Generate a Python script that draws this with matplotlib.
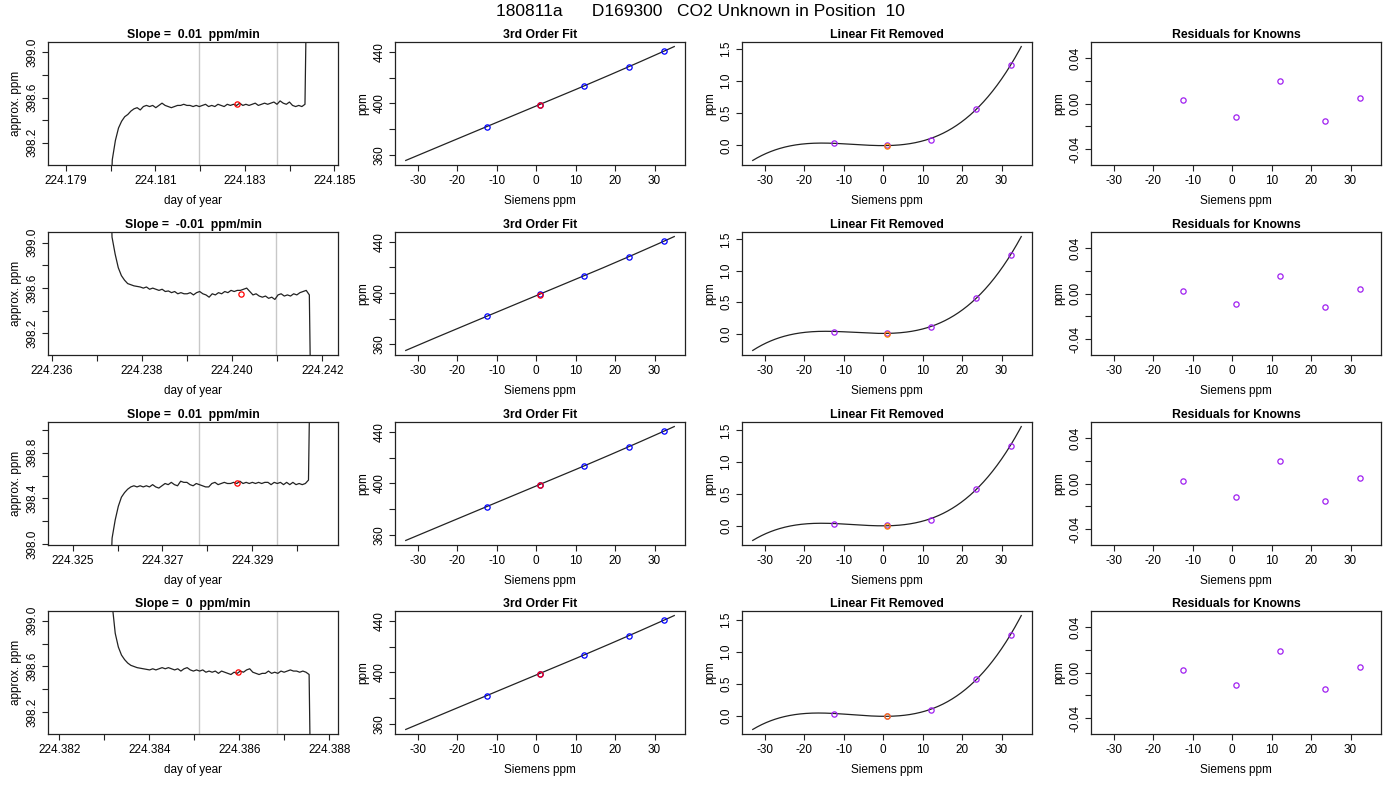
"""Unknown-in-position diagnostics: raw trace, cubic calibration, linear-removed fit and residuals."""

import numpy as np
import matplotlib

matplotlib.use("Agg")
import matplotlib.pyplot as plt
from matplotlib.ticker import FixedLocator, FixedFormatter

plt.rcParams["font.family"] = ["Liberation Sans", "DejaVu Sans"]

TITLE = "180811a      D169300   CO2 Unknown in Position  10"

# ---- column 1: analyser trace, one sample every 6 s ----
SAMPLE_SEC = 6.0
trace_start = [224.179967, 224.237270, 224.325808, 224.383104]
trace_row1 = [
    397.30, 398.05, 398.22, 398.33, 398.39, 398.43, 398.45, 398.48, 398.50, 398.51,
    398.49, 398.52, 398.53, 398.52, 398.53, 398.51, 398.53, 398.55, 398.53, 398.52,
    398.51, 398.52, 398.53, 398.53, 398.54, 398.53, 398.53, 398.52, 398.53, 398.52,
    398.53, 398.54, 398.52, 398.53, 398.52, 398.54, 398.53, 398.52, 398.54, 398.53,
    398.54, 398.53, 398.55, 398.53, 398.54, 398.53, 398.54, 398.55, 398.53, 398.54,
    398.55, 398.54, 398.55, 398.56, 398.54, 398.57, 398.55, 398.54, 398.56, 398.53,
    398.52, 398.53, 398.52, 398.54, 400.50,
]
trace_row2 = [
    400.20, 399.05, 398.90, 398.78, 398.71, 398.67, 398.64, 398.63, 398.62, 398.615,
    398.61, 398.60, 398.61, 398.59, 398.60, 398.59, 398.58, 398.59, 398.57, 398.575,
    398.56, 398.57, 398.55, 398.56, 398.55, 398.55, 398.56, 398.54, 398.56, 398.57,
    398.55, 398.54, 398.52, 398.55, 398.54, 398.56, 398.55, 398.57, 398.56, 398.58,
    398.57, 398.58, 398.58, 398.59, 398.60, 398.57, 398.54, 398.55, 398.53, 398.52,
    398.53, 398.51, 398.52, 398.50, 398.54, 398.55, 398.53, 398.54, 398.53, 398.55,
    398.54, 398.56, 398.57, 398.58, 398.54, 396.50,
]
trace_row3 = [
    397.30, 398.05, 398.21, 398.33, 398.41, 398.45, 398.48, 398.50, 398.51, 398.50,
    398.51, 398.50, 398.51, 398.50, 398.52, 398.50, 398.49, 398.51, 398.53, 398.52,
    398.54, 398.52, 398.51, 398.55, 398.54, 398.54, 398.52, 398.51, 398.53, 398.52,
    398.51, 398.50, 398.50, 398.53, 398.54, 398.52, 398.53, 398.54, 398.53, 398.53,
    398.54, 398.53, 398.55, 398.53, 398.54, 398.53, 398.54, 398.53, 398.54, 398.53,
    398.54, 398.54, 398.52, 398.54, 398.53, 398.54, 398.52, 398.54, 398.52, 398.54,
    398.52, 398.53, 398.52, 398.53, 398.56, 400.50,
]
trace_row4 = [
    400.30, 399.15, 398.89, 398.77, 398.70, 398.66, 398.63, 398.61, 398.60, 398.59,
    398.585, 398.58, 398.575, 398.57, 398.58, 398.57, 398.58, 398.59, 398.58, 398.59,
    398.58, 398.57, 398.58, 398.56, 398.58, 398.59, 398.57, 398.56, 398.57, 398.56,
    398.57, 398.55, 398.56, 398.55, 398.56, 398.54, 398.56, 398.55, 398.54, 398.53,
    398.55, 398.54, 398.56, 398.55, 398.57, 398.58, 398.55, 398.54, 398.53, 398.54,
    398.54, 398.56, 398.54, 398.55, 398.54, 398.56, 398.55, 398.56, 398.57, 398.56,
    398.56, 398.55, 398.56, 398.55, 398.53, 396.50,
]
traces = [trace_row1, trace_row2, trace_row3, trace_row4]

window_start = [224.181975, 224.239270, 224.327810, 224.385100]
window_end = [224.183720, 224.240980, 224.329550, 224.386830]
unknown_time = [224.18282, 224.24020, 224.32866, 224.38596]
unknown_mean = [398.54, 398.55, 398.538, 398.55]
slopes = ["0.01", "-0.01", "0.01", "0"]

time_xlim = [(224.17860, 224.18508), (224.23592, 224.24235), (224.32445, 224.33091), (224.38175, 224.38819)]
time_ylim = [(398.003, 399.091), (398.010, 399.095), (397.990, 399.070), (398.010, 399.085)]
time_xticks = [
    [224.179, 224.180, 224.181, 224.182, 224.183, 224.184, 224.185],
    [224.236, 224.237, 224.238, 224.239, 224.240, 224.241, 224.242],
    [224.325, 224.326, 224.327, 224.328, 224.329, 224.330],
    [224.382, 224.383, 224.384, 224.385, 224.386, 224.387, 224.388],
]
time_yticks = [
    [398.2, 398.4, 398.6, 398.8, 399.0],
    [398.2, 398.4, 398.6, 398.8, 399.0],
    [398.0, 398.2, 398.4, 398.6, 398.8, 399.0],
    [398.2, 398.4, 398.6, 398.8, 399.0],
]

# ---- columns 2-4: calibration against the known tanks ----
siemens_known = [-12.5, 1.0, 12.2, 23.5, 32.3]
siemens_unknown = 1.0
fit_range = (-33.0, 35.0)

ppm_known = [
    [381.8, 399.0, 413.6, 428.4, 440.4],
    [381.8, 399.0, 413.5, 428.3, 440.3],
    [381.8, 399.0, 413.6, 428.4, 440.4],
    [381.8, 399.0, 413.6, 428.4, 440.4],
]
ppm_unknown = [398.55, 398.55, 398.54, 398.55]

nonlinear_known = [
    [0.030, 0.010, 0.090, 0.570, 1.240],
    [0.032, 0.010, 0.100, 0.567, 1.250],
    [0.030, 0.010, 0.090, 0.580, 1.260],
    [0.040, 0.010, 0.090, 0.580, 1.270],
]
nonlinear_unknown = [-0.005, 0.0, -0.003, 0.0]

residuals = [
    [0.0027, -0.0118, 0.0200, -0.0153, 0.0050],
    [0.0020, -0.0088, 0.0152, -0.0117, 0.0038],
    [0.0020, -0.0120, 0.0199, -0.0157, 0.0047],
    [0.0020, -0.0113, 0.0187, -0.0148, 0.0044],
]

INK = "#222222"
FIG_W, FIG_H = 1400, 800
COL_LEFT = [48, 395, 742, 1091]
ROW_TOP = [42, 232, 422, 611]
AX_W, AX_H = 290, 123
MS = 3.8


def style_axes(ax):
    for sp in ax.spines.values():
        sp.set_linewidth(0.9)
        sp.set_color(INK)
    ax.tick_params(direction="out", length=4.5, width=0.8, color=INK,
                   labelsize=8.5, pad=2.5, labelcolor="black")
    ax.tick_params(axis="y", labelrotation=90)
    for lab in ax.get_yticklabels():
        lab.set_va("center")


def set_ticks(ax, axis, ticks, labels):
    target = ax.xaxis if axis == "x" else ax.yaxis
    target.set_major_locator(FixedLocator(ticks))
    target.set_major_formatter(FixedFormatter(labels))


def every_other(values, fmt, first=0):
    return [fmt.format(v) if (i - first) % 2 == 0 else "" for i, v in enumerate(values)]


def main() -> None:
    fig = plt.figure(figsize=(FIG_W / 100, FIG_H / 100), dpi=100)
    fig.text(0.5, 1 - 11 / FIG_H, TITLE, ha="center", va="center", fontsize=12.5)

    axes = []
    for r in range(4):
        row = []
        for c in range(4):
            rect = [COL_LEFT[c] / FIG_W, (FIG_H - ROW_TOP[r] - AX_H) / FIG_H, AX_W / FIG_W, AX_H / FIG_H]
            row.append(fig.add_axes(rect))
        axes.append(row)

    title_kw = dict(fontsize=8.8, fontweight="bold", pad=3)
    label_kw = dict(fontsize=8.5)

    for r in range(4):
        # raw trace
        ax = axes[r][0]
        y = np.array(traces[r])
        t = trace_start[r] + np.arange(len(y)) * SAMPLE_SEC / 86400.0
        ax.axvline(window_start[r], color="#c8c8c8", lw=1.0)
        ax.axvline(window_end[r], color="#c8c8c8", lw=1.0)
        ax.plot(t, y, color=INK, lw=0.9)
        ax.plot([unknown_time[r]], [unknown_mean[r]], "o", mfc="none", mec="red", ms=MS, mew=0.9)
        ax.set_xlim(*time_xlim[r])
        ax.set_ylim(*time_ylim[r])
        set_ticks(ax, "x", time_xticks[r], every_other(time_xticks[r], "{:.3f}"))
        yt = time_yticks[r]
        set_ticks(ax, "y", yt, every_other(yt, "{:.1f}"))
        ax.set_title(f"Slope =  {slopes[r]}  ppm/min", **title_kw)
        ax.set_xlabel("day of year", labelpad=6, **label_kw)
        ax.set_ylabel("approx. ppm", labelpad=3, **label_kw)

        xs = np.linspace(fit_range[0], fit_range[1], 300)

        # cubic calibration
        ax = axes[r][1]
        coef = np.polyfit(siemens_known, ppm_known[r], 3)
        ax.plot(xs, np.polyval(coef, xs), color=INK, lw=0.9)
        ax.plot(siemens_known, ppm_known[r], "o", mfc="none", mec="blue", ms=MS, mew=0.9)
        ax.plot([siemens_unknown], [ppm_unknown[r]], "o", mfc="none", mec="red", ms=MS, mew=0.9)
        ax.margins(0.04)
        set_ticks(ax, "y", [360, 380, 400, 420, 440], ["360", "", "400", "", "440"])
        ax.set_title("3rd Order Fit", **title_kw)
        ax.set_ylabel("ppm", labelpad=3, **label_kw)

        # linear part removed
        ax = axes[r][2]
        coef = np.polyfit(siemens_known, nonlinear_known[r], 3)
        ax.plot(xs, np.polyval(coef, xs), color=INK, lw=0.9)
        ax.plot(siemens_known, nonlinear_known[r], "o", mfc="none", mec="#a020f0", ms=MS, mew=0.9)
        ax.plot([siemens_unknown], [nonlinear_unknown[r]], "o", mfc="none", mec="#ff7f00", ms=MS, mew=0.9)
        ax.margins(0.04)
        set_ticks(ax, "y", [0.0, 0.5, 1.0, 1.5], ["0.0", "0.5", "1.0", "1.5"])
        ax.set_title("Linear Fit Removed", **title_kw)
        ax.set_ylabel("ppm", labelpad=3, **label_kw)

        # residuals
        ax = axes[r][3]
        ax.plot(siemens_known, residuals[r], "o", mfc="none", mec="#a020f0", ms=MS, mew=0.9)
        ax.set_ylim(-0.054, 0.054)
        set_ticks(ax, "y", [-0.04, -0.02, 0.0, 0.02, 0.04], ["-0.04", "", "0.00", "", "0.04"])
        ax.set_title("Residuals for Knowns", **title_kw)
        ax.set_ylabel("ppm", labelpad=3, **label_kw)

        for c in (1, 2, 3):
            ax = axes[r][c]
            ax.set_xlim(-35.72, 37.72)
            set_ticks(ax, "x", [-30, -20, -10, 0, 10, 20, 30],
                      ["-30", "-20", "-10", "0", "10", "20", "30"])
            ax.set_xlabel("Siemens ppm", labelpad=6, **label_kw)

        for c in range(4):
            style_axes(axes[r][c])

    fig.savefig("out.png", dpi=100)


if __name__ == "__main__":
    main()
